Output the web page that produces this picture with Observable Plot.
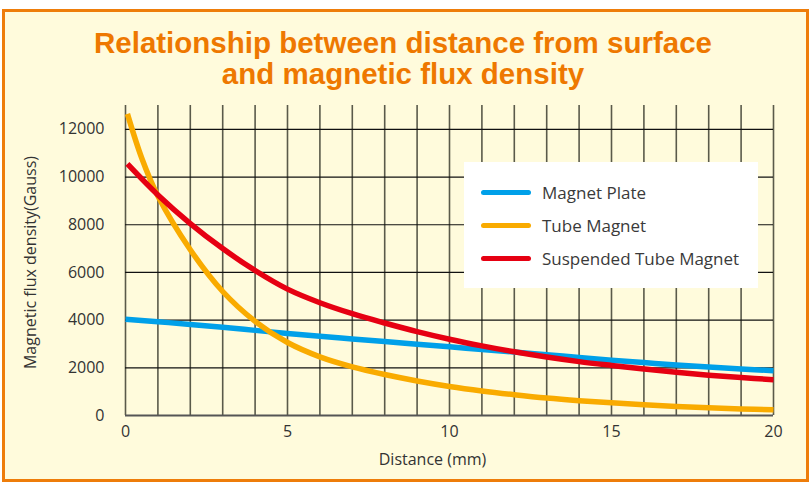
<!DOCTYPE html>
<html>
<head>
<meta charset="utf-8">
<script src="https://cdn.jsdelivr.net/npm/d3@7"></script>
<script src="https://cdn.jsdelivr.net/npm/@observablehq/plot@0.6"></script>
<style>
  html, body { margin: 0; padding: 0; background: #ffffff; }
  #page { position: relative; width: 811px; height: 484px; overflow: hidden; }
  #frame { position: absolute; left: 2px; top: 9px; width: 801px; height: 467px;
           border: 3px solid #ee7d0a; background: #fffbdc; }
  #title { position: absolute; left: 0; top: 27px; width: 806px; text-align: center;
           font-family: "Liberation Sans", Arial, sans-serif; font-weight: bold;
           font-size: 29.5px; line-height: 31px; color: #ee7800; }
  #chart { position: absolute; left: 0; top: 0; }
  #legend { position: absolute; left: 464px; top: 162px; width: 294px; height: 126px;
            background: #ffffff; font-family: "Open Sans", sans-serif; font-size: 17px; color: #3a3a3a; }
  .item { position: absolute; left: 17px; height: 24px; display: flex; align-items: center; }
  .sw { width: 50px; height: 5px; border-radius: 3px; margin-right: 11px; }
</style>
</head>
<body>
<div id="page">
  <div id="frame"></div>
  <div id="title">Relationship between distance from surface<br>and magnetic flux density</div>
  <div id="chart"></div>
  <div id="legend"></div>
</div>
<script>
const seriesNames = ["Magnet Plate", "Tube Magnet", "Suspended Tube Magnet"];
const seriesColors = ["#00a0e9", "#f9ab00", "#e60012"];

const plateX = [0,1,2,3,4,5,6,7,8,9,10,11,12,13,14,15,16,17,18,19,20];
const plateY = [4040,3930,3820,3700,3570,3440,3320,3210,3100,2990,2880,2770,2660,2550,2430,2320,2220,2120,2030,1950,1880];

const tubeX = [0.06,0.5,1,2,3,4,5,6,7,8,9,10,11,12,13,14,15,16,17,18,19,20];
const tubeY = [12650,10800,9200,6950,5200,3950,3060,2460,2040,1720,1450,1220,1030,870,730,620,530,450,380,320,275,240];

const suspX = [0.06,1,2,3,4,5,6,7,8,9,10,11,12,13,14,15,16,17,18,19,20];
const suspY = [10550,9250,8050,7000,6080,5300,4730,4270,3880,3520,3200,2920,2670,2450,2260,2100,1950,1810,1690,1590,1500];

const xTicks = [0,5,10,15,20];
const yTicks = [0,2000,4000,6000,8000,10000,12000];
const xGrid = d3.range(0, 21);
const yGrid = [2000,4000,6000,8000,10000,12000];
const xLabel = "Distance (mm)";
const yLabel = "Magnetic flux density(Gauss)";

const rows = [
  ...plateX.map((x, i) => ({series: seriesNames[0], x, y: plateY[i]})),
  ...tubeX.map((x, i) => ({series: seriesNames[1], x, y: tubeY[i]})),
  ...suspX.map((x, i) => ({series: seriesNames[2], x, y: suspY[i]}))
];

const chart = Plot.plot({
  width: 811,
  height: 484,
  marginLeft: 125,
  marginRight: 38,
  marginTop: 105,
  marginBottom: 69,
  style: {background: "transparent", fontFamily: "'Open Sans', sans-serif", fontSize: "16px", color: "#333"},
  x: {domain: [0, 20]},
  y: {domain: [0, 13000]},
  color: {domain: seriesNames, range: seriesColors},
  marks: [
    Plot.ruleX(xGrid, {y1: 0, y2: 13000, stroke: "#5a5a4a", strokeWidth: 1.6}),
    Plot.ruleY(yGrid, {stroke: "#111", strokeWidth: 1.2}),
    Plot.ruleY([0], {stroke: "#555", strokeWidth: 2}),
    Plot.line(rows, {x: "x", y: "y", z: "series", stroke: "series", strokeWidth: 5.5, curve: "catmull-rom", strokeLinecap: "butt"}),
    Plot.axisX({ticks: xTicks, tickSize: 0, tickPadding: 10, tickFormat: d => String(d), label: null, fontSize: 16}),
    Plot.axisY({ticks: yTicks, tickSize: 0, tickPadding: 21, tickFormat: d => String(d), label: null, fontSize: 16}),
    Plot.text([xLabel], {text: d => d, frameAnchor: "bottom", dx: -17, dy: 49, fontSize: 16, fill: "#333"}),
    Plot.text([yLabel], {text: d => d, frameAnchor: "left", textAnchor: "middle", dx: -95, dy: 2, rotate: -90, fontSize: 16, fill: "#333"})
  ]
});
document.getElementById("chart").appendChild(chart);

const legend = document.getElementById("legend");
seriesNames.forEach((name, i) => {
  const div = document.createElement("div");
  div.className = "item";
  div.style.top = (18 + i * 33) + "px";
  const sw = document.createElement("span");
  sw.className = "sw";
  sw.style.background = seriesColors[i];
  const t = document.createElement("span");
  t.textContent = name;
  div.appendChild(sw);
  div.appendChild(t);
  legend.appendChild(div);
});
</script>
</body>
</html>
